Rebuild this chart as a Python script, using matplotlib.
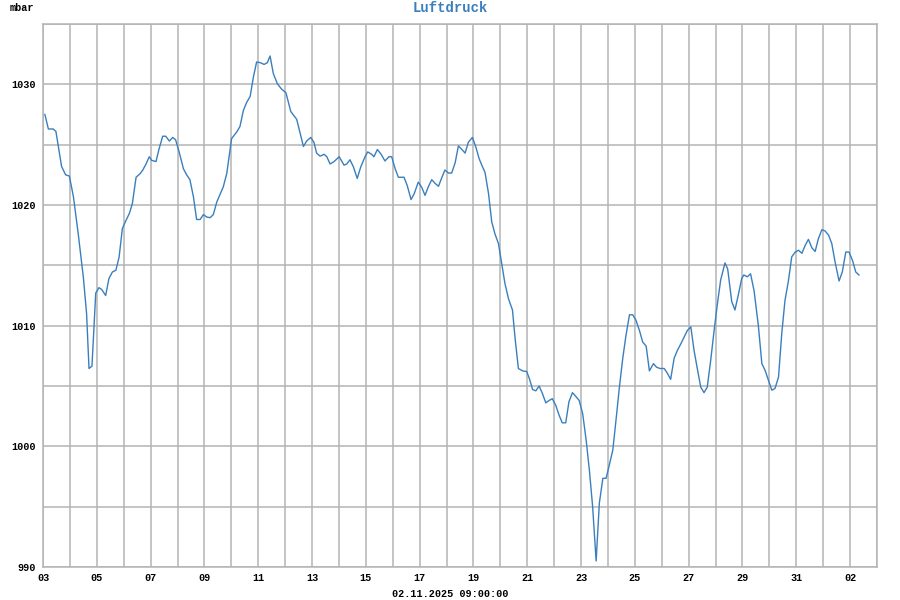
import numpy as np
import pandas as pd
import matplotlib
matplotlib.use('Agg')
import matplotlib.pyplot as plt
import matplotlib.dates as mdates

start = pd.Timestamp('2025-10-03 00:00')

# time since start (days) and air pressure (mbar)
days = [0.07, 0.20, 0.38, 0.48, 0.69, 0.84, 0.98, 1.13, 1.31, 1.50, 1.62, 1.71, 1.82, 1.96,
        2.08, 2.18, 2.33, 2.45, 2.58, 2.71, 2.83, 2.95, 3.07, 3.21, 3.32, 3.46, 3.61, 3.71,
        3.83, 3.95, 4.04, 4.20, 4.32, 4.45, 4.56, 4.70, 4.82, 4.93, 5.06, 5.22, 5.34, 5.46,
        5.59, 5.71, 5.84, 5.96, 6.09, 6.21, 6.33,
        6.46, 6.70, 6.83, 7.01, 7.20, 7.32, 7.45, 7.57, 7.70, 7.82, 7.94, 8.07, 8.22, 8.34,
        8.44, 8.56, 8.71, 8.87, 9.03, 9.21, 9.43, 9.68, 9.80, 9.95, 10.07, 10.17, 10.30,
        10.45, 10.55, 10.67, 10.82, 11.01, 11.19, 11.29, 11.41, 11.54, 11.68, 11.81, 11.97,
        12.07, 12.22, 12.30, 12.43, 12.57, 12.71, 12.86, 12.96,
        13.09, 13.21, 13.42, 13.54, 13.68, 13.80, 13.95, 14.08, 14.20, 14.32, 14.45, 14.57,
        14.70, 14.82, 14.94, 15.07, 15.19, 15.32, 15.44, 15.57, 15.69, 15.81, 15.96, 16.09,
        16.21, 16.31, 16.43, 16.56, 16.68, 16.80, 16.93, 17.05, 17.17, 17.30, 17.45, 17.55,
        17.67, 17.83, 17.98, 18.08, 18.20, 18.32, 18.44, 18.56, 18.69, 18.81, 18.93, 19.06,
        19.18, 19.30, 19.43, 19.55, 19.68, 19.80, 19.93,
        20.06, 20.19, 20.31, 20.43, 20.56, 20.68, 20.81, 20.93, 21.05, 21.18, 21.30, 21.42,
        21.55, 21.67, 21.80, 21.92, 22.04, 22.17, 22.29, 22.42, 22.54, 22.69, 22.81, 22.94,
        23.09, 23.21, 23.33, 23.46, 23.58, 23.71, 23.83, 23.95, 24.08, 24.20, 24.32, 24.45,
        24.57, 24.69, 24.82, 24.94, 25.07, 25.19, 25.35, 25.45, 25.60, 25.72, 25.84, 25.97,
        26.05, 26.18, 26.30, 26.43, 26.59, 26.72, 26.84, 26.96, 27.09, 27.21, 27.34, 27.46,
        27.58, 27.71, 27.83, 27.96, 28.08, 28.21, 28.33, 28.45, 28.58, 28.70, 28.82, 28.95,
        29.07, 29.20, 29.32, 29.44, 29.59, 29.71, 29.84, 29.96, 30.09, 30.21, 30.33]

pressure = [1027.5, 1026.3, 1026.3, 1026.1, 1023.2, 1022.5, 1022.4, 1020.7, 1017.6, 1014.0,
            1011.0, 1006.45, 1006.65, 1012.7, 1013.15, 1013.0, 1012.5, 1013.9, 1014.45, 1014.6,
            1015.7, 1018.05, 1018.65, 1019.3, 1020.1, 1022.3, 1022.6, 1022.9, 1023.4, 1024.0,
            1023.7, 1023.6, 1024.7, 1025.7, 1025.7, 1025.3, 1025.6, 1025.4, 1024.4, 1023.0,
            1022.5, 1022.1, 1020.7, 1018.8, 1018.8, 1019.2, 1019.0, 1018.95, 1019.2,
            1020.25, 1021.5, 1022.6, 1025.5, 1026.05, 1026.5, 1027.85, 1028.5, 1029.0, 1030.6,
            1031.85, 1031.8, 1031.65, 1031.8, 1032.35, 1030.9, 1030.05, 1029.6, 1029.3,
            1027.75, 1027.1, 1024.85, 1025.3, 1025.6, 1025.2, 1024.3, 1024.05, 1024.2, 1024.0,
            1023.4, 1023.6, 1024.0, 1023.3, 1023.4, 1023.75, 1023.15, 1022.2, 1023.15, 1024.0,
            1024.4, 1024.2, 1024.0, 1024.6, 1024.2, 1023.65, 1024.0, 1024.0,
            1023.0, 1022.3, 1022.3, 1021.6, 1020.45, 1020.95, 1021.9, 1021.45, 1020.8, 1021.5,
            1022.1, 1021.8, 1021.55, 1022.25, 1022.9, 1022.65, 1022.65, 1023.5, 1024.9, 1024.6,
            1024.3, 1025.2, 1025.6, 1024.8, 1023.85, 1023.3, 1022.7, 1020.95, 1018.6, 1017.6,
            1016.8, 1015.15, 1013.5, 1012.25, 1011.3, 1008.9, 1006.45, 1006.25, 1006.2, 1005.6,
            1004.7, 1004.6, 1005.0, 1004.4, 1003.6, 1003.8, 1003.95, 1003.4, 1002.6, 1001.95,
            1001.95, 1003.7, 1004.45, 1004.15, 1003.8,
            1002.7, 1000.5, 998.0, 995.0, 990.5, 995.3, 997.35, 997.35, 998.45, 999.7, 1002.2,
            1004.8, 1007.3, 1009.2, 1010.9, 1010.9, 1010.45, 1009.6, 1008.65, 1008.3, 1006.25,
            1006.85, 1006.55, 1006.45, 1006.45, 1006.05, 1005.55, 1007.3, 1007.95, 1008.5,
            1009.05, 1009.6, 1009.9, 1007.95, 1006.45, 1004.9, 1004.45, 1004.9, 1007.15, 1009.5,
            1011.85, 1013.8, 1015.2, 1014.7, 1012.0, 1011.3, 1012.5, 1013.9,
            1014.2, 1014.05, 1014.3, 1012.9, 1010.0, 1006.85, 1006.3, 1005.5, 1004.65, 1004.8,
            1005.75, 1009.35, 1012.1, 1013.75, 1015.7, 1016.1, 1016.25, 1016.0, 1016.65,
            1017.15, 1016.45, 1016.15, 1017.2, 1017.95, 1017.85, 1017.5, 1016.8, 1015.3, 1013.7,
            1014.45, 1016.1, 1016.1, 1015.4, 1014.45, 1014.2]

y_labels = [990, 1000, 1010, 1020, 1030]
stamp = '02.11.2025 09:00:00'

times = start + pd.to_timedelta(days, unit='D')

font = 'Liberation Mono'
grid_col = '#b4b4b4'
line_col = '#3a7fbd'
small = 7.3

fig = plt.figure(figsize=(9, 6), dpi=100)
ax = fig.add_axes([43 / 900, 1 - 567 / 600, (877 - 43) / 900, (567 - 24) / 600])

ax.plot(times, pressure, color=line_col, linewidth=1.0)

ax.set_xlim(start, start + pd.Timedelta(days=31))
ax.set_ylim(990, 1035)

ax.set_xticks(pd.date_range(start, periods=16, freq='2D'))
ax.set_xticks(pd.date_range(start, periods=32, freq='D'), minor=True)
ax.xaxis.set_major_formatter(mdates.DateFormatter('%d'))
ax.set_yticks(y_labels)
ax.set_yticks(np.arange(990, 1036, 5), minor=True)

ax.grid(True, which='both', color=grid_col, linewidth=1.1)
ax.set_axisbelow(True)
ax.tick_params(which='both', length=0)
ax.tick_params(axis='x', pad=4)
ax.tick_params(axis='y', pad=5)
for lbl in ax.get_xticklabels() + ax.get_yticklabels():
    lbl.set_family(font)
    lbl.set_weight('bold')
    lbl.set_fontsize(small)
for sp in ax.spines.values():
    sp.set_color(grid_col)
    sp.set_linewidth(1.1)

fig.text(10 / 900, 1 - 8 / 600, 'mbar', family=font, weight='bold', fontsize=small,
         ha='left', va='center')
fig.text(0.5, 1 - 8 / 600, 'Luftdruck', family=font, weight='bold', fontsize=10,
         color=line_col, ha='center', va='center')
fig.text(0.5, 1 - 594 / 600, stamp, family=font, weight='bold', fontsize=small,
         ha='center', va='center')

fig.savefig('out.png', dpi=100)
